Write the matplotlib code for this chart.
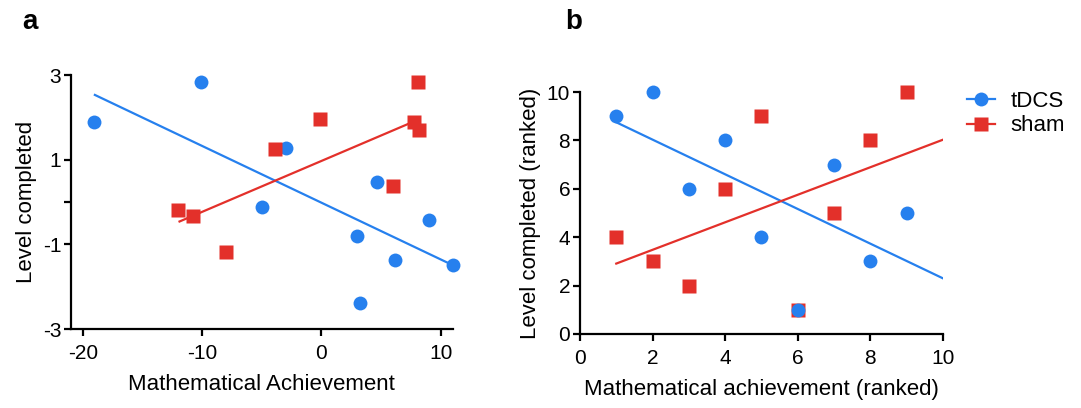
import matplotlib
matplotlib.use('Agg')
import matplotlib.pyplot as plt
from matplotlib.lines import Line2D

plt.rcParams['font.family'] = ['Liberation Sans', 'DejaVu Sans']
plt.rcParams['axes.unicode_minus'] = False

blue = '#2680ee'
red = '#e3302a'

# panel a: raw scores
a_tdcs_x = [-19.1, -10.1, -3.0, -5.0, 4.7, 3.0, 6.2, 9.0, 11.0, 3.2]
a_tdcs_y = [1.90, 2.84, 1.27, -0.11, 0.47, -0.80, -1.38, -0.43, -1.48, -2.39]
a_sham_x = [-12.0, -10.8, -8.0, -3.9, -0.1, 6.0, 7.8, 8.2, 8.1]
a_sham_y = [-0.18, -0.32, -1.18, 1.25, 1.96, 0.39, 1.88, 1.69, 2.83]
# fitted lines (endpoints)
a_tdcs_fit_x = [-19.0, 11.0]
a_tdcs_fit_y = [2.53, -1.49]
a_sham_fit_x = [-11.9, 7.9]
a_sham_fit_y = [-0.46, 1.92]

# panel b: ranked
b_tdcs_x = [1, 2, 3, 4, 5, 6, 7, 8, 9]
b_tdcs_y = [9, 10, 6, 8, 4, 1, 7, 3, 5]
b_sham_x = [1, 2, 3, 4, 5, 6, 7, 8, 9]
b_sham_y = [4, 3, 2, 6, 9, 1, 5, 8, 10]
b_tdcs_fit_x = [1, 10]
b_tdcs_fit_y = [8.75, 2.30]
b_sham_fit_x = [1, 10]
b_sham_fit_y = [2.91, 8.03]

a_yticks = [-3, -1, 0, 1, 3]
a_yticklabels = ['-3', '-1', '', '1', '3']
a_xticks = [-20, -10, 0, 10]

fig = plt.figure(figsize=(10.81, 4.08), dpi=100)
ax1 = fig.add_axes([0.0657, 0.1936, 0.353, 0.6225])
ax2 = fig.add_axes([0.5365, 0.1814, 0.3358, 0.593])

ms = 10

def style(ax):
    for s in ['top', 'right']:
        ax.spines[s].set_visible(False)
    for s in ['left', 'bottom']:
        ax.spines[s].set_linewidth(1.6)
    ax.tick_params(direction='out', width=1.6, length=5, labelsize=15)
    ax.tick_params(axis='x', pad=6)
    ax.tick_params(axis='y', pad=2)

# panel a
ax1.plot(a_tdcs_fit_x, a_tdcs_fit_y, color=blue, lw=1.6, zorder=2)
ax1.plot(a_sham_fit_x, a_sham_fit_y, color=red, lw=1.6, zorder=2)
ax1.plot(a_tdcs_x, a_tdcs_y, 'o', color=blue, ms=ms, mec='none', zorder=3, clip_on=False)
ax1.plot(a_sham_x, a_sham_y, 's', color=red, ms=ms - 0.5, mec='none', zorder=4, clip_on=False)
ax1.set_xlim(-21, 11)
ax1.set_ylim(-3, 3)
ax1.set_xticks(a_xticks)
ax1.set_yticks(a_yticks)
ax1.set_yticklabels(a_yticklabels)
ax1.set_xlabel('Mathematical Achievement', fontsize=16, labelpad=8)
ax1.set_ylabel('Level completed', fontsize=16, labelpad=4)
style(ax1)

# panel b
ax2.plot(b_tdcs_fit_x, b_tdcs_fit_y, color=blue, lw=1.6, zorder=2)
ax2.plot(b_sham_fit_x, b_sham_fit_y, color=red, lw=1.6, zorder=2)
ax2.plot(b_sham_x, b_sham_y, 's', color=red, ms=ms - 0.5, mec='none', zorder=3, clip_on=False)
ax2.plot(b_tdcs_x, b_tdcs_y, 'o', color=blue, ms=ms, mec='none', zorder=4, clip_on=False)
ax2.set_xlim(0, 10)
ax2.set_ylim(0, 10)
ax2.set_xticks([0, 2, 4, 6, 8, 10])
ax2.set_yticks([0, 2, 4, 6, 8, 10])
ax2.set_xlabel('Mathematical achievement (ranked)', fontsize=16, labelpad=8)
ax2.set_ylabel('Level completed (ranked)', fontsize=16, labelpad=4)
style(ax2)

handles = [Line2D([], [], color=blue, marker='o', ms=ms, mec='none', lw=1.6),
           Line2D([], [], color=red, marker='s', ms=ms - 0.5, mec='none', lw=1.6)]
fig.legend(handles, ['tDCS', 'sham'], loc='upper left', bbox_to_anchor=(0.895, 0.777),
           frameon=False, fontsize=16, handlelength=1.25, handletextpad=0.7,
           labelspacing=0.15, borderpad=0, borderaxespad=0)

fig.text(0.021, 0.945, 'a', fontsize=20, fontweight='bold', va='center')
fig.text(0.523, 0.945, 'b', fontsize=20, fontweight='bold', va='center')

fig.savefig('out.png', dpi=100)
